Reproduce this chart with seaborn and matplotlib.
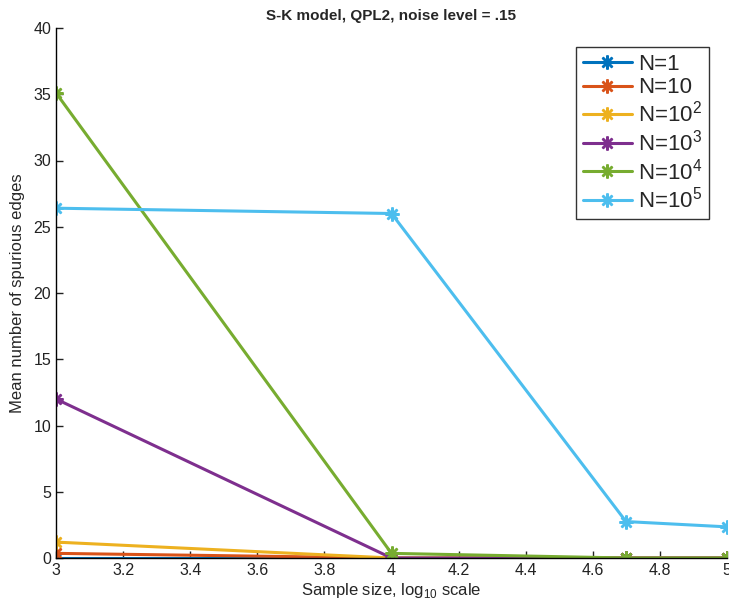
import numpy as np
import pandas as pd
import matplotlib
matplotlib.use("Agg")
import matplotlib.pyplot as plt
import seaborn as sns

sample_size_log10 = [3.0, 4.0, 4.699, 5.0]
series_labels = ["N=1", "N=10", "N=10$^2$", "N=10$^3$", "N=10$^4$", "N=10$^5$"]
n_1 = [0.0, 0.0, 0.0, 0.0]
n_10 = [0.35, 0.0, 0.0, 0.0]
n_100 = [1.2, 0.0, 0.0, 0.0]
n_1000 = [12.0, 0.0, 0.0, 0.0]
n_10000 = [35.1, 0.35, 0.0, 0.0]
n_100000 = [26.4, 26.0, 2.75, 2.35]
all_values = [n_1, n_10, n_100, n_1000, n_10000, n_100000]
x_ticks = [3, 3.2, 3.4, 3.6, 3.8, 4, 4.2, 4.4, 4.6, 4.8, 5]
x_tick_labels = ["3", "3.2", "3.4", "3.6", "3.8", "4", "4.2", "4.4", "4.6", "4.8", "5"]
y_ticks = [0, 5, 10, 15, 20, 25, 30, 35, 40]

colors = ["#0072BD", "#D95319", "#EDB120", "#7E2F8E", "#77AC30", "#4DBEEE"]

rows = []
for lab, vals in zip(series_labels, all_values):
    for x, v in zip(sample_size_log10, vals):
        rows.append({"x": x, "y": v, "series": lab})
df = pd.DataFrame(rows)

sns.set_style("ticks")
plt.rcParams["font.family"] = ["Liberation Sans", "DejaVu Sans"]
plt.rcParams["mathtext.fontset"] = "custom"
plt.rcParams["mathtext.rm"] = "Liberation Sans"

fig = plt.figure(figsize=(7.29, 6.03), dpi=100)
ax = fig.add_axes([56 / 729, 45 / 603, 671 / 729, 530 / 603])

sns.lineplot(data=df, x="x", y="y", hue="series", hue_order=series_labels,
             palette=colors, marker=(8, 2, 0), markersize=10, markeredgewidth=1.8,
             linewidth=2.2, ax=ax, legend=True, sort=False)
for line, c in zip(ax.get_lines(), colors):
    line.set_markeredgecolor(c)

ax.set_xlim(3, 5)
ax.set_ylim(0, 40)
ax.set_xticks(x_ticks)
ax.set_xticklabels(x_tick_labels)
ax.set_yticks(y_ticks)
ax.tick_params(direction="in", length=5, width=1, labelsize=11.5, colors="#222222")
for s in ["top", "right"]:
    ax.spines[s].set_visible(False)
for s in ["left", "bottom"]:
    ax.spines[s].set_linewidth(1)
    ax.spines[s].set_color("black")

ax.set_xlabel("Sample size, log$_{10}$ scale", fontsize=12, labelpad=2)
ax.set_ylabel("Mean number of spurious edges", fontsize=12, labelpad=6)
ax.set_title("S-K model, QPL2, noise level = .15", fontsize=11, fontweight="bold", pad=6)

handles, labels = ax.get_legend_handles_labels()
for h, c in zip(handles, colors):
    h.set_markeredgecolor(c)
leg = ax.legend(handles, labels, loc="upper right", bbox_to_anchor=(0.99, 0.985),
                fontsize=16, frameon=True, fancybox=False, edgecolor="black",
                handlelength=2.2, handletextpad=0.3, labelspacing=0.12,
                borderpad=0.3, title=None)
leg.get_frame().set_linewidth(1)

fig.savefig("out.png", dpi=100)
